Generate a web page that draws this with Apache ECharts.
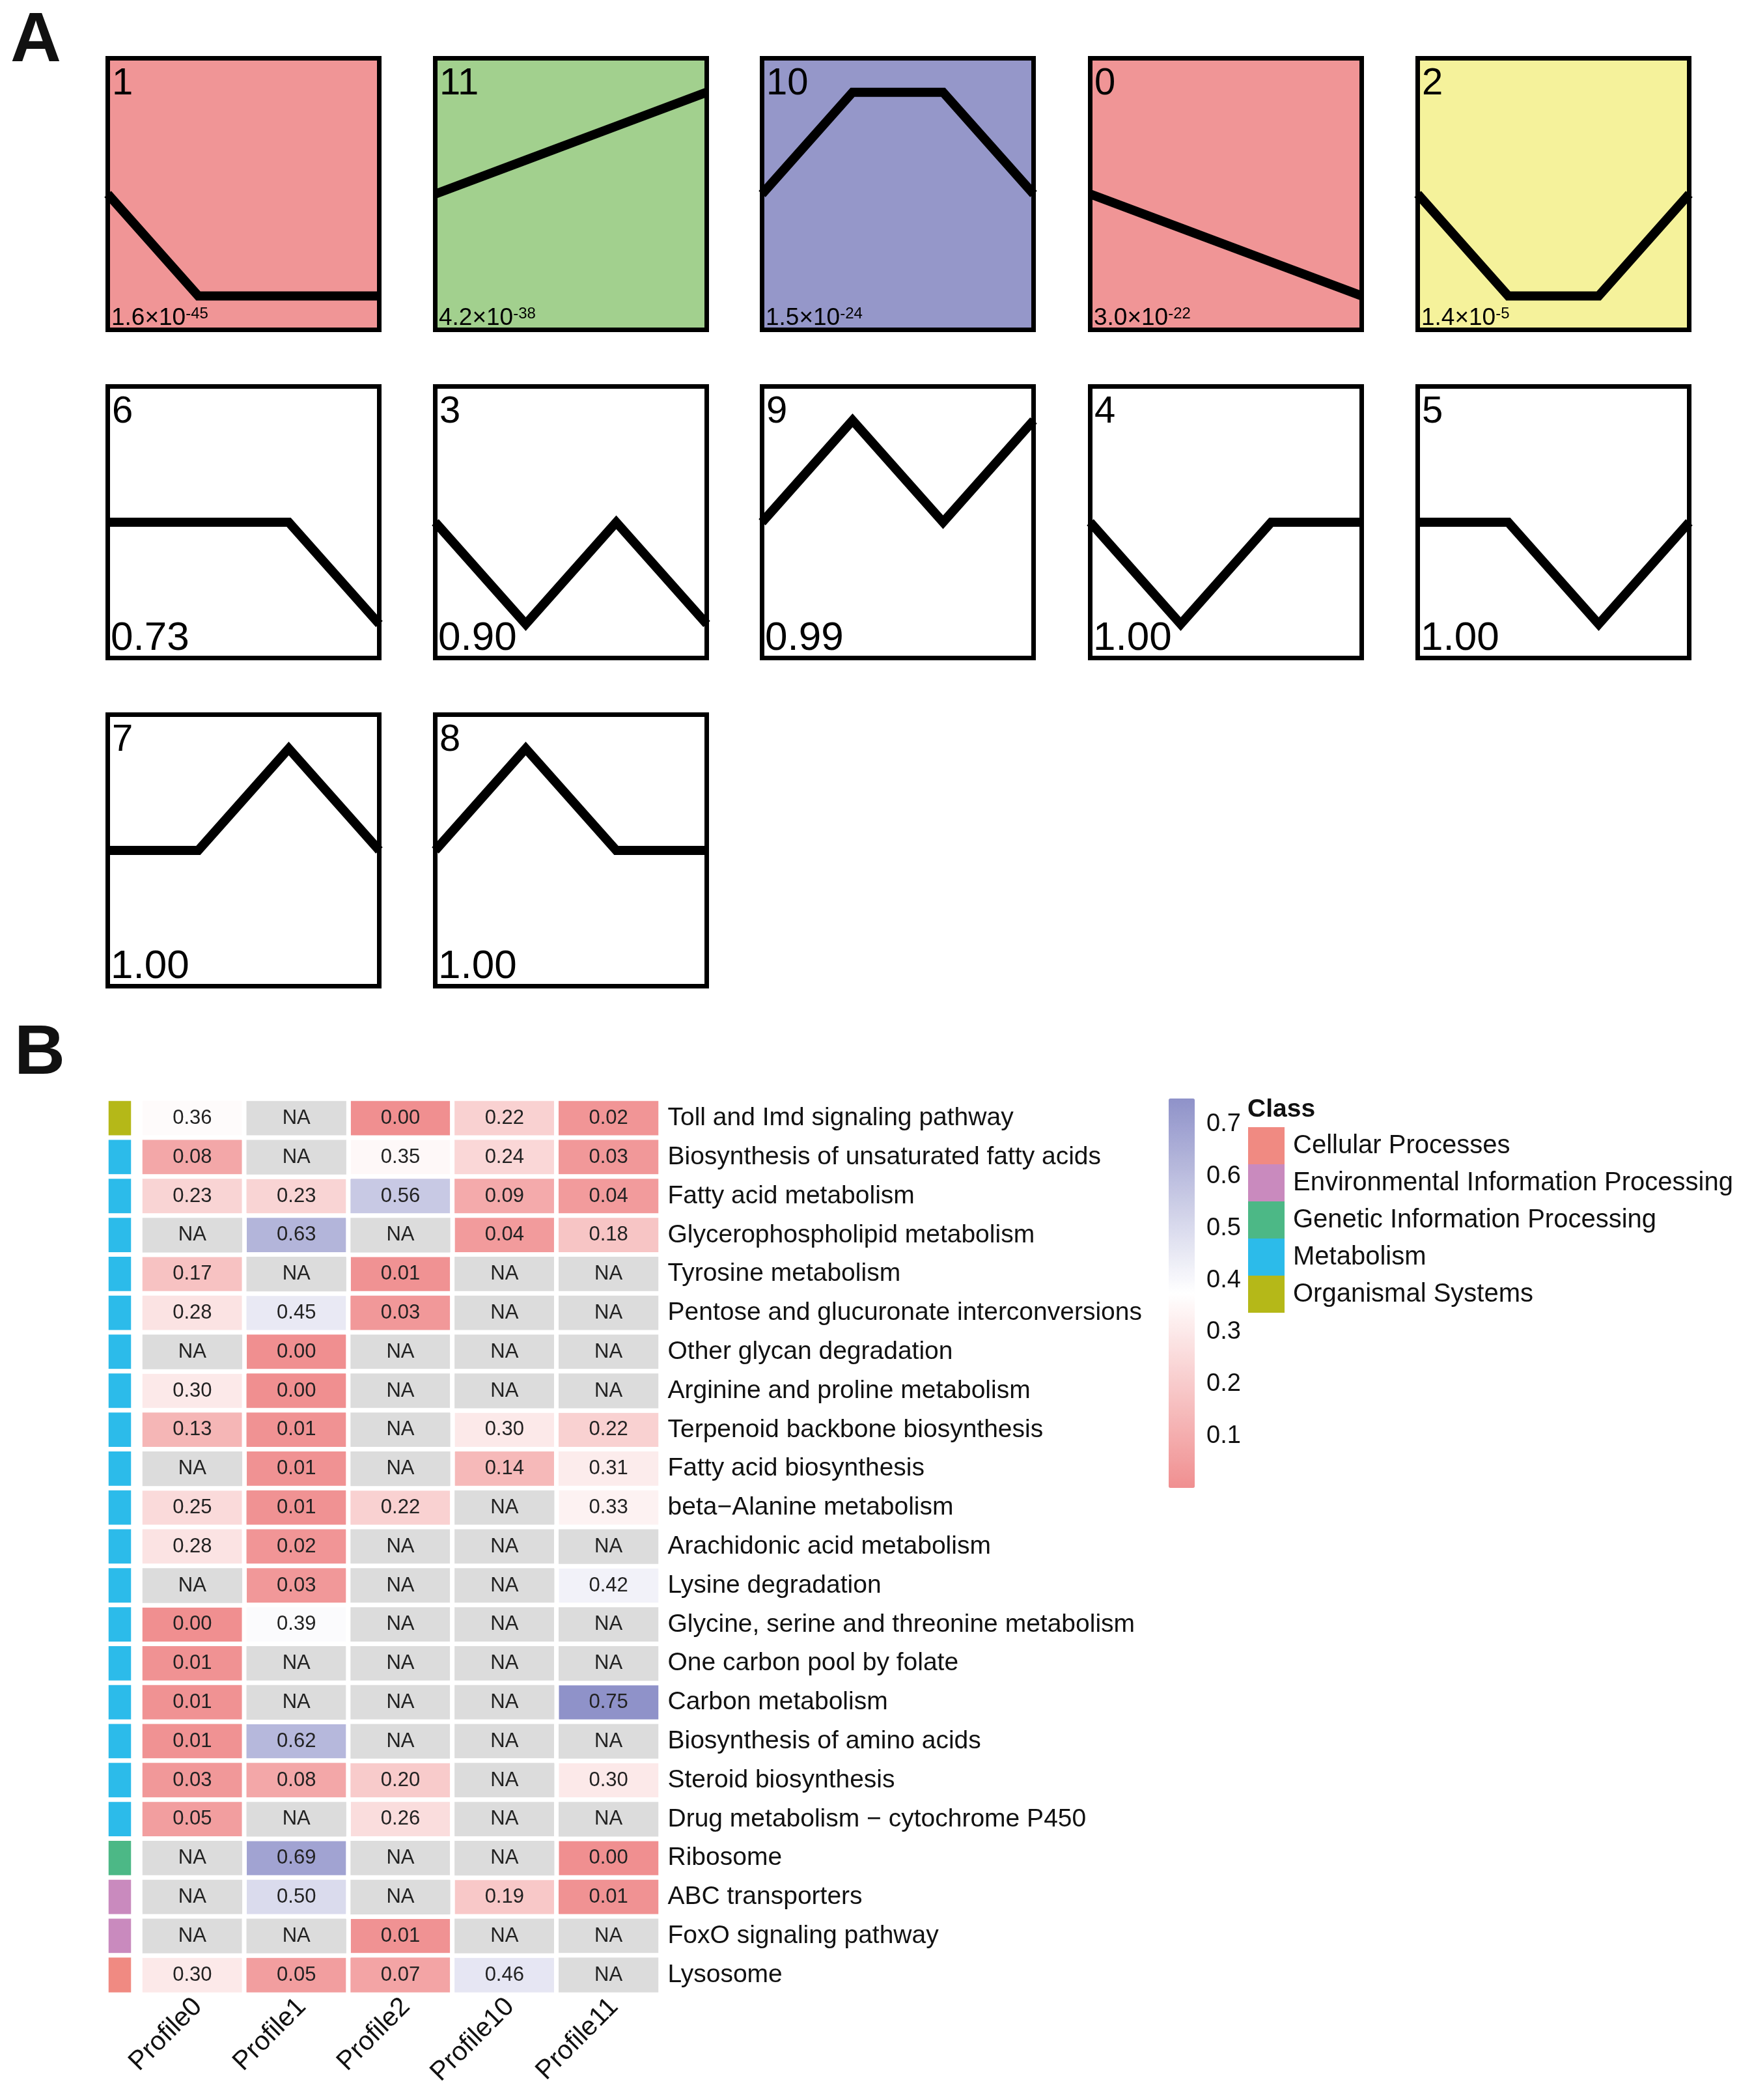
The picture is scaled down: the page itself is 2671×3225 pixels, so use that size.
<!DOCTYPE html>
<html><head><meta charset="utf-8">
<script src="https://cdn.jsdelivr.net/npm/echarts@6/dist/echarts.min.js"></script>
<style>html,body{margin:0;padding:0;background:#fff}#chart{width:2671px;height:3225px}</style>
</head><body><div id="chart"></div>
<script>
// ---------------- Panel A data ----------------
const timePoints = ['0', '1', '2', '3'];
const profileIds = [1, 11, 10, 0, 2, 6, 3, 9, 4, 5, 7, 8];
const profileShapes = [
  [0, -1, -1, -1], [0, 1, 2, 3], [0, 1, 1, 0], [0, -1, -2, -3], [0, -1, -1, 0],
  [0, 0, 0, -1], [0, -1, 0, -1], [0, 1, 0, 1], [0, -1, 0, 0], [0, 0, -1, 0],
  [0, 0, 1, 0], [0, 1, 0, 0]
];
const profilePText = ['1.6\u00d710', '4.2\u00d710', '1.5\u00d710', '3.0\u00d710', '1.4\u00d710',
  '0.73', '0.90', '0.99', '1.00', '1.00', '1.00', '1.00'];
const profilePExp = ['-45', '-38', '-24', '-22', '-5', '', '', '', '', '', '', ''];
const profileFill = ['#F09596', '#A2D08E', '#9597C9', '#F09596', '#F5F29B',
  '#FFFFFF', '#FFFFFF', '#FFFFFF', '#FFFFFF', '#FFFFFF', '#FFFFFF', '#FFFFFF'];

// ---------------- Panel B data ----------------
const profiles = ['Profile0', 'Profile1', 'Profile2', 'Profile10', 'Profile11'];
const pathways = [
  'Toll and Imd signaling pathway',
  'Biosynthesis of unsaturated fatty acids',
  'Fatty acid metabolism',
  'Glycerophospholipid metabolism',
  'Tyrosine metabolism',
  'Pentose and glucuronate interconversions',
  'Other glycan degradation',
  'Arginine and proline metabolism',
  'Terpenoid backbone biosynthesis',
  'Fatty acid biosynthesis',
  'beta\u2212Alanine metabolism',
  'Arachidonic acid metabolism',
  'Lysine degradation',
  'Glycine, serine and threonine metabolism',
  'One carbon pool by folate',
  'Carbon metabolism',
  'Biosynthesis of amino acids',
  'Steroid biosynthesis',
  'Drug metabolism \u2212 cytochrome P450',
  'Ribosome',
  'ABC transporters',
  'FoxO signaling pathway',
  'Lysosome'
];
const pathwayClass = [
  'Organismal Systems',
  'Metabolism', 'Metabolism', 'Metabolism', 'Metabolism', 'Metabolism', 'Metabolism',
  'Metabolism', 'Metabolism', 'Metabolism', 'Metabolism', 'Metabolism', 'Metabolism',
  'Metabolism', 'Metabolism', 'Metabolism', 'Metabolism', 'Metabolism', 'Metabolism',
  'Genetic Information Processing',
  'Environmental Information Processing', 'Environmental Information Processing',
  'Cellular Processes'
];
const classNames = ['Cellular Processes', 'Environmental Information Processing',
  'Genetic Information Processing', 'Metabolism', 'Organismal Systems'];
const classColors = ['#F08A82', '#C98ABE', '#4CB886', '#2CBBEA', '#B5B818'];

const valsProfile0 = [0.36, 0.08, 0.23, null, 0.17, 0.28, null, 0.30, 0.13, null, 0.25, 0.28,
  null, 0.00, 0.01, 0.01, 0.01, 0.03, 0.05, null, null, null, 0.30];
const valsProfile1 = [null, null, 0.23, 0.63, null, 0.45, 0.00, 0.00, 0.01, 0.01, 0.01, 0.02,
  0.03, 0.39, null, null, 0.62, 0.08, null, 0.69, 0.50, null, 0.05];
const valsProfile2 = [0.00, 0.35, 0.56, null, 0.01, 0.03, null, null, null, null, 0.22, null,
  null, null, null, null, null, 0.20, 0.26, null, null, 0.01, 0.07];
const valsProfile10 = [0.22, 0.24, 0.09, 0.04, null, null, null, null, 0.30, 0.14, null, null,
  null, null, null, null, null, null, null, null, 0.19, null, 0.46];
const valsProfile11 = [0.02, 0.03, 0.04, 0.18, null, null, null, null, 0.22, 0.31, 0.33, null,
  0.42, null, null, 0.75, null, 0.30, null, 0.00, 0.01, null, null];
const colorTicks = [0.1, 0.2, 0.3, 0.4, 0.5, 0.6, 0.7];

// ---------------- layout ----------------
const FONT = "'Liberation Sans', Arial, Helvetica, sans-serif";
const boxLefts = [162, 665, 1167, 1671, 2174];
const boxTops = [86, 590, 1094];
const boxSize = 424;
const BW = 7;

const grids = [], xAxes = [], yAxes = [], series = [], graphics = [];

profileIds.forEach((pid, i) => {
  const col = i % 5, row = Math.floor(i / 5);
  const L = boxLefts[col], T = boxTops[row];
  const shape = profileShapes[i];
  const amp = Math.max.apply(null, shape.map(Math.abs));
  const lim = amp / 0.75;
  grids.push({
    left: L + BW / 2, top: T + BW / 2, width: boxSize - BW, height: boxSize - BW,
    show: true, borderColor: '#000', borderWidth: BW, backgroundColor: profileFill[i]
  });
  xAxes.push({ gridIndex: i, type: 'category', data: timePoints, boundaryGap: false, show: false });
  yAxes.push({ gridIndex: i, type: 'value', min: -lim, max: lim, show: false });
  series.push({
    type: 'line', xAxisIndex: i, yAxisIndex: i, data: shape, symbol: 'none', silent: true,
    lineStyle: { color: '#000', width: 14, join: 'miter', cap: 'butt' }, animation: false
  });
  graphics.push({
    type: 'text', left: L + 10, top: T + 14, silent: true,
    style: { text: String(pid), font: '58px ' + FONT, fill: '#000' }
  });
  if (profilePExp[i]) {
    graphics.push({
      type: 'text', left: L + 9, top: T + boxSize - 40, silent: true,
      style: {
        text: '{a|' + profilePText[i] + '}{b|' + profilePExp[i] + '}',
        rich: {
          a: { fontSize: 37, lineHeight: 38, fontFamily: FONT, fill: '#000' },
          b: { fontSize: 24, lineHeight: 24, fontFamily: FONT, fill: '#000', verticalAlign: 'top' }
        }
      }
    });
  } else {
    graphics.push({
      type: 'text', left: L + 8, top: T + boxSize - 64, silent: true,
      style: { text: profilePText[i], font: '62px ' + FONT, fill: '#000' }
    });
  }
});

// Panel letters
graphics.push({ type: 'text', left: 16, top: 10, silent: true,
  style: { text: 'A', font: 'bold 108px ' + FONT, fill: '#111' } });
graphics.push({ type: 'text', left: 22, top: 1565, silent: true,
  style: { text: 'B', font: 'bold 108px ' + FONT, fill: '#111' } });
graphics.push({ type: 'text', left: 1916, top: 1685, silent: true,
  style: { text: 'Class', font: 'bold 39px ' + FONT, fill: '#111' } });

// ---------------- Panel B grids ----------------
const hmTop = 1687.5, rowH = 59.8, hmHeight = rowH * pathways.length;
const gClass = grids.length;
grids.push({ left: 163.5, top: hmTop, width: 41, height: hmHeight });
xAxes.push({ gridIndex: gClass, type: 'category', data: ['Class'], show: false });
yAxes.push({ gridIndex: gClass, type: 'category', data: pathways, inverse: true, show: false });

const gHm = grids.length;
grids.push({ left: 215.5, top: hmTop, width: 799, height: hmHeight });
xAxes.push({
  gridIndex: gHm, type: 'category', data: profiles, position: 'bottom',
  axisLine: { show: false }, axisTick: { show: false }, splitLine: { show: false },
  axisLabel: { rotate: 45, margin: 21, fontSize: 41, color: '#111', fontFamily: FONT, interval: 0,
    padding: [16, -12, 0, 0] }
});
yAxes.push({
  gridIndex: gHm, type: 'category', data: pathways, inverse: true, position: 'right',
  axisLine: { show: false }, axisTick: { show: false }, splitLine: { show: false },
  axisLabel: { margin: 11, fontSize: 39, color: '#111', fontFamily: FONT, interval: 0 }
});

const gBar = grids.length;
grids.push({ left: 1795, top: 1687, width: 40, height: 598 });
xAxes.push({ gridIndex: gBar, type: 'value', show: false, min: 0, max: 1 });
yAxes.push({
  gridIndex: gBar, type: 'value', min: 0, max: 0.75, interval: 0.1, position: 'right',
  axisLine: { show: false }, axisTick: { show: false }, splitLine: { show: false },
  axisLabel: {
    margin: 18, fontSize: 38, color: '#111', fontFamily: FONT,
    formatter: v => colorTicks.some(t => Math.abs(t - v) < 1e-6) ? v.toFixed(1) : ''
  }
});

// class bar series
const sClass = series.length;
series.push({
  type: 'heatmap', xAxisIndex: gClass, yAxisIndex: gClass, silent: true, animation: false,
  data: pathwayClass.map((c, r) => [0, r, classNames.indexOf(c)]),
  itemStyle: { borderColor: '#fff', borderWidth: 7 }, emphasis: { disabled: true }
});

const columns = [valsProfile0, valsProfile1, valsProfile2, valsProfile10, valsProfile11];
const valData = [], naData = [];
columns.forEach((arr, c) => arr.forEach((v, r) => {
  if (v === null) naData.push([c, r, 0]); else valData.push([c, r, v]);
}));
const sVal = series.length;
series.push({
  type: 'heatmap', xAxisIndex: gHm, yAxisIndex: gHm, silent: true, animation: false,
  data: valData,
  itemStyle: { borderColor: '#fff', borderWidth: 7 }, emphasis: { disabled: true },
  label: { show: true, formatter: p => p.value[2].toFixed(2), fontSize: 31, color: '#222', fontFamily: FONT }
});
const sNA = series.length;
series.push({
  type: 'heatmap', xAxisIndex: gHm, yAxisIndex: gHm, silent: true, animation: false,
  data: naData,
  itemStyle: { borderColor: '#fff', borderWidth: 7 }, emphasis: { disabled: true },
  label: { show: true, formatter: 'NA', fontSize: 31, color: '#222', fontFamily: FONT }
});
series.push({ type: 'scatter', xAxisIndex: gBar, yAxisIndex: gBar, data: [], silent: true });

const chart = echarts.init(document.getElementById('chart'), null, { renderer: 'canvas' });
chart.setOption({
  backgroundColor: '#fff',
  animation: false,
  textStyle: { fontFamily: FONT },
  grid: grids, xAxis: xAxes, yAxis: yAxes, series: series,
  graphic: graphics,
  visualMap: [
    {
      type: 'continuous', seriesIndex: sVal, min: 0, max: 0.75, calculable: false,
      show: true, orient: 'vertical', left: 1795, top: 1687, itemWidth: 40, itemHeight: 598,
      padding: 0, hoverLink: false, realtime: false,
      inRange: { color: ['#F08F90', '#FFFFFF', '#8F92C9'] }
    },
    {
      type: 'piecewise', seriesIndex: sNA, show: false,
      pieces: [{ min: -1, max: 1, color: '#DCDCDC' }]
    },
    {
      type: 'piecewise', seriesIndex: sClass, show: true, orient: 'vertical', inverse: true,
      align: 'left',
      left: 1917, top: 1731, itemWidth: 56, itemHeight: 57, itemGap: 0, textGap: 13,
      itemSymbol: 'rect', padding: 0, selectedMode: false, hoverLink: false,
      textStyle: { fontSize: 40, color: '#111', fontFamily: FONT },
      pieces: classNames.map((n, i) => ({ value: i, label: n, color: classColors[i] }))
    }
  ]
});
</script></body></html>
